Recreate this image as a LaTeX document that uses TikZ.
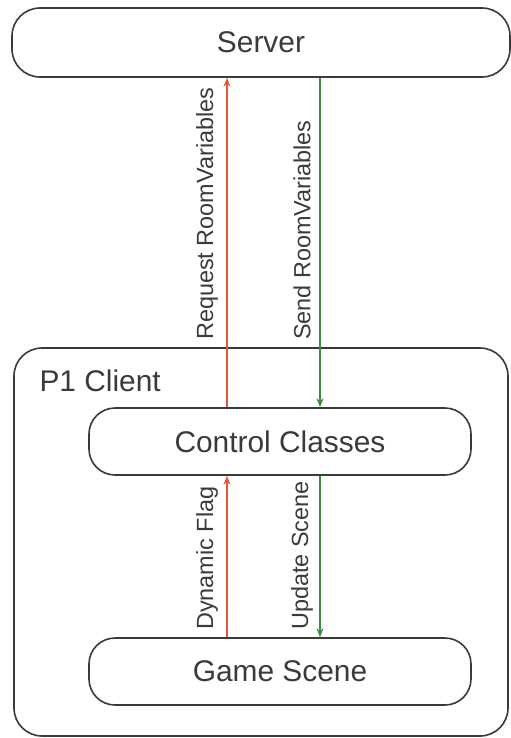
\documentclass[tikz,border=0pt]{standalone}
\usepackage{fontspec}
\setmainfont{Liberation Sans}
\usetikzlibrary{arrows.meta}
\usetikzlibrary{positioning}
\definecolor{msg-red}{HTML}{DC5A3A}
\definecolor{msg-green}{HTML}{3E8A3E}
\definecolor{box-grey}{HTML}{3A3A3A}

\begin{document}
\begin{tikzpicture}[x=1bp, y=-1bp]

    \useasboundingbox (0,0) rectangle (511,738);

    % outer boxes
    \begin{scope}[every node/.style={rectangle, rounded corners=28bp, draw=box-grey, line width=1.6bp, inner sep=0pt}]
        \node[minimum width=498bp, minimum height=69bp] (server) at (261,42.5) {};
        \node[minimum width=494bp, minimum height=388bp] (client) at (261,542) {};
    \end{scope}
    \node[text=box-grey, font=\fontsize{30}{36}\selectfont] at (server.center) {Server};
    \node[anchor=west, text=box-grey, font=\fontsize{30}{36}\selectfont] (p1) at (36,381) {P1 Client};

    % components
    \begin{scope}[every node/.style={rectangle, rounded corners=26bp, draw=box-grey, line width=1.6bp, text=box-grey,
                                     minimum width=382bp, minimum height=67bp, font=\fontsize{30}{36}\selectfont}]
        \node (ctrl) at (280,441.5) {Control Classes};
        \node (scene) at (280,671.5) {Game Scene};
    \end{scope}

    % arrow columns
    \coordinate (up) at (227,0);
    \coordinate (down) at (320,0);

    % messages
    \begin{scope}[line width=1.2bp, -{Stealth[length=9bp, width=7bp]}]
        \draw[msg-red] (ctrl.north -| up) -- (server.south -| up);
        \draw[msg-green] (server.south -| down) -- (ctrl.north -| down);
        \draw[msg-red] (scene.north -| up) -- (ctrl.south -| up);
        \draw[msg-green] (ctrl.south -| down) -- (scene.north -| down);
    \end{scope}

    % labels
    \begin{scope}[every node/.style={rotate=90, anchor=west, inner sep=0pt, text=box-grey, font=\fontsize{23.5}{28}\selectfont}]
        \node (req) at (207,340) {Request RoomVariables};
        \node (send) at (302,340) {Send RoomVariables};
        \node (flag) at (207,630) {Dynamic Flag};
        \node (upd) at (302,630) {Update Scene};
    \end{scope}

\end{tikzpicture}
\end{document}
